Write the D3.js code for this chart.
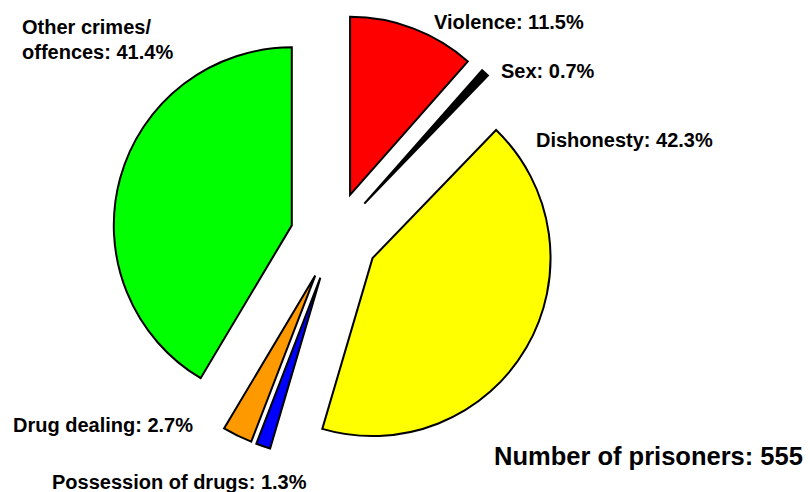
<!DOCTYPE html>
<html>
<head>
<meta charset="utf-8">
<script src="https://cdn.jsdelivr.net/npm/d3@7"></script>
<style>
  body { margin: 0; background: #fff; }
  text { font-family: "Liberation Sans", Arial, sans-serif; font-weight: bold; fill: #000; }
</style>
</head>
<body>
<svg id="chart"></svg>
<script>
const width = 810;
const height = 492;

// data, clockwise from 12 o'clock
const categories = ["Violence", "Sex", "Dishonesty", "Possession of drugs", "Drug dealing", "Other crimes/offences"];
const shares = [11.5, 0.7, 42.3, 1.3, 2.7, 41.4];
const labelLines = [
    ["Violence: 11.5%"],
    ["Sex: 0.7%"],
    ["Dishonesty: 42.3%"],
    ["Possession of drugs: 1.3%"],
    ["Drug dealing: 2.7%"],
    ["Other crimes/", "offences: 41.4%"]
];
const totalLabel = "Number of prisoners: 555";

const colors = ["#ff0000", "#000000", "#ffff00", "#0000ff", "#ff9900", "#00ff00"];

// layout
const center = { x: 334.5, y: 236 };
const radius = 178;
const explode = 44;
// the green slice was pulled out sideways in the original, not along its middle
const explodeAngle = { "Other crimes/offences": 284 * Math.PI / 180 };
const labelPos = [
    { x: 434, y: 29 },
    { x: 501, y: 78 },
    { x: 536, y: 147 },
    { x: 52, y: 489 },
    { x: 13, y: 432 },
    { x: 22, y: 34 }
];

const svg = d3.select("#chart")
    .attr("width", width)
    .attr("height", height);

const pie = d3.pie()
    .sort(null)
    .value(function (d) { return d.value; });

const arc = d3.arc()
    .innerRadius(0)
    .outerRadius(radius);

const rows = categories.map(function (c, i) { return { name: c, value: shares[i], i: i }; });
const arcs = pie(rows);

const g = svg.append("g")
    .attr("transform", `translate(${center.x}, ${center.y})`);

g.selectAll("path")
    .data(arcs)
    .enter()
    .append("path")
    .attr("d", arc)
    .attr("transform", function (d) {
        let a = (d.startAngle + d.endAngle) / 2;
        if (explodeAngle[d.data.name] !== undefined) a = explodeAngle[d.data.name];
        return `translate(${Math.sin(a) * explode}, ${-Math.cos(a) * explode})`;
    })
    .style("fill", function (d) { return colors[d.data.i]; })
    .style("stroke", "#000")
    .style("stroke-width", 2)
    .style("stroke-linejoin", "miter");

const labels = svg.selectAll("text.label")
    .data(rows)
    .enter()
    .append("text")
    .attr("class", "label")
    .attr("x", function (d) { return labelPos[d.i].x; })
    .attr("y", function (d) { return labelPos[d.i].y; })
    .style("font-size", "20px");

labels.selectAll("tspan")
    .data(function (d) { return labelLines[d.i].map(function (t) { return { t: t, x: labelPos[d.i].x }; }); })
    .enter()
    .append("tspan")
    .attr("x", function (d) { return d.x; })
    .attr("dy", function (d, j) { return j === 0 ? 0 : 25; })
    .text(function (d) { return d.t; });

svg.append("text")
    .attr("x", 494)
    .attr("y", 465)
    .style("font-size", "25.5px")
    .text(totalLabel);
</script>
</body>
</html>
